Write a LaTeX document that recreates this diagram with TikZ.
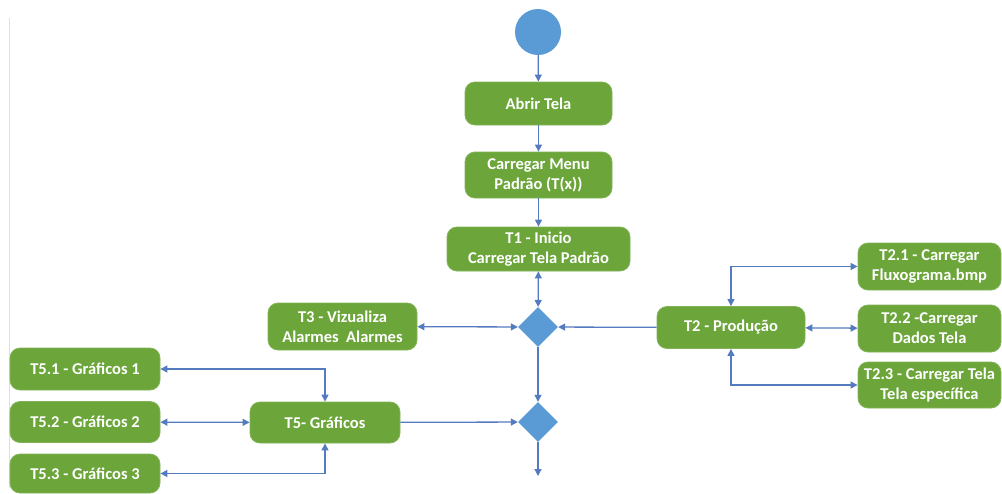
\documentclass[tikz,border=0pt]{standalone}
\usepackage{fontspec}
\setmainfont{Carlito}
\usetikzlibrary{arrows.meta,shapes.geometric}
\definecolor{boxgreen}{RGB}{108,166,58}
\definecolor{shapeblue}{RGB}{91,155,213}
\definecolor{linkblue}{RGB}{84,122,192}
\tikzset{
  stepbox/.style={rectangle, rounded corners=10pt, fill=boxgreen, draw=boxgreen!85!white, line width=0.8pt,
    text=white, font=\fontsize{16.5}{20}\selectfont\bfseries, align=center, inner sep=2pt},
  startnode/.style={circle, fill=shapeblue, minimum size=46pt, inner sep=0pt},
  decision/.style={diamond, fill=shapeblue, minimum width=40pt, minimum height=40pt, inner sep=0pt, aspect=1},
  link/.style={draw=linkblue, line width=1.3pt, -{Triangle[width=7pt,length=7pt]}},
  link2/.style={draw=linkblue, line width=1.3pt, {Triangle[width=7pt,length=7pt]}-{Triangle[width=7pt,length=7pt]}}
}
\begin{document}
\begin{tikzpicture}[x=1pt,y=-1pt]
\useasboundingbox (0,0) rectangle (1002,493);
\draw[gray!25, line width=1pt] (9,18) -- (9,488);

\node[startnode] (start) at (538,32) {};
\node[stepbox, minimum width=147pt, minimum height=43pt] (abrir) at (538.5,103.5) {Abrir Tela};
\node[stepbox, minimum width=147pt, minimum height=46pt] (menu) at (538.5,175) {Carregar Menu\\Padrão (T(x))};
\node[stepbox, minimum width=183pt, minimum height=44pt] (t1) at (538.5,249) {T1 - Inicio\\Carregar Tela Padrão};
\node[decision] (d1) at (538,327) {};
\node[stepbox, minimum width=149pt, minimum height=47pt] (t3) at (342.5,326.5) {T3 - Vizualiza\\Alarmes\ \ Alarmes};
\node[stepbox, minimum width=148pt, minimum height=42pt] (t2) at (731,327.5) {T2 - Produção};
\node[stepbox, minimum width=143pt, minimum height=47pt] (t21) at (929.5,266.5) {T2.1 - Carregar\\Fluxograma.bmp};
\node[stepbox, minimum width=143pt, minimum height=47pt] (t22) at (929.5,328.5) {T2.2 -Carregar\\Dados Tela};
\node[stepbox, minimum width=143pt, minimum height=46pt] (t23) at (929.5,385) {T2.3 - Carregar Tela\\Tela específica};
\node[stepbox, minimum width=150pt, minimum height=42pt] (t51) at (85,369) {T5.1 - Gráficos 1};
\node[stepbox, minimum width=150pt, minimum height=41pt] (t52) at (85,422) {T5.2 - Gráficos 2};
\node[stepbox, minimum width=150pt, minimum height=39pt] (t53) at (85,473.5) {T5.3 - Gráficos 3};
\node[stepbox, minimum width=150pt, minimum height=41pt] (t5) at (325,422.5) {T5- Gráficos};
\node[decision] (d2) at (538,422) {};
\coordinate (endpt) at (538,476);

\draw[link] (start) -- (abrir);
\draw[link] (abrir) -- (menu);
\draw[link] (menu) -- (t1);
\draw[link2] (t1) -- (d1);
\draw[link2] (t3) -- (d1);
\draw[link] (t2) -- (d1);
\draw[link] (d1) -- (d2);
\draw[link] (t5) -- (d2);
\draw[link] (d2) -- (endpt);
\draw[link2] (t2) -- (t22);
\draw[link2] (t2.north) |- (t21.west);
\draw[link2] (t2.south) |- (t23.west);
\draw[link2] (t51.east) -| (t5.north);
\draw[link2] (t52) -- (t5);
\draw[link2] (t53.east) -| (t5.south);
\end{tikzpicture}
\end{document}
